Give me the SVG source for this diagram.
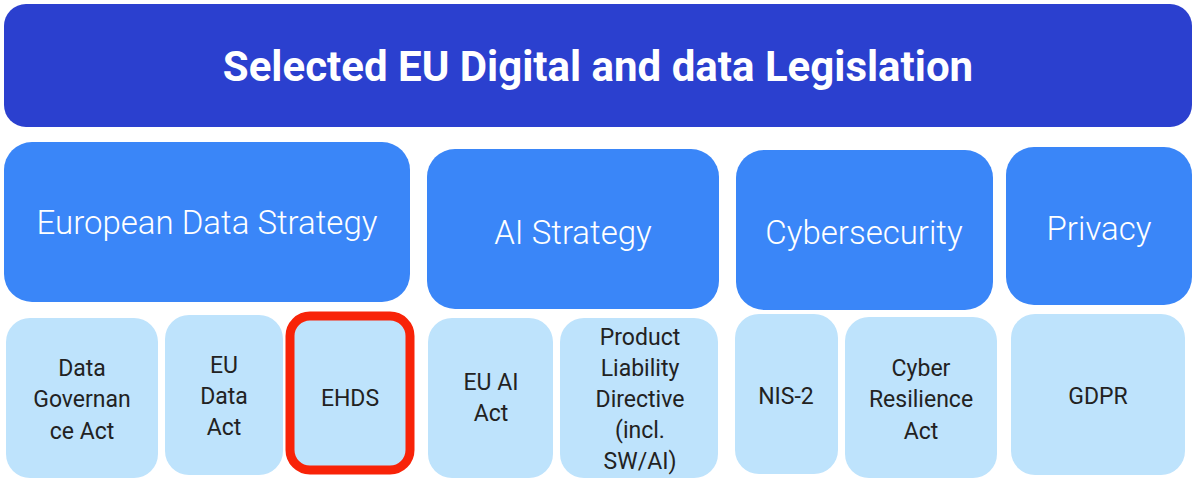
<svg xmlns="http://www.w3.org/2000/svg" width="1200" height="483" viewBox="0 0 1200 483">
<style>
.t{fill:#2B40CF}
.c{fill:#3A86F8}
.l{fill:#BEE3FC}
.tt{font-family:Roboto,"Liberation Sans",sans-serif;font-weight:bold;font-size:42px;fill:#fff;text-anchor:middle}
.ct{font-family:Roboto,"Liberation Sans",sans-serif;font-weight:300;font-size:33px;fill:#fff;text-anchor:middle}
.lt{font-family:Roboto,"Liberation Sans",sans-serif;font-size:23px;fill:#222;text-anchor:middle}
</style>
<rect width="1200" height="483" fill="#fff"/>
<g id="title"><rect class="t" x="4" y="4" width="1188" height="123" rx="22"/><text class="tt" x="598" y="81">Selected EU Digital and data Legislation</text></g>
<g id="eds"><rect class="c" x="4" y="142" width="406" height="160" rx="28"/><text class="ct" x="207" y="234">European Data Strategy</text></g>
<g id="ai"><rect class="c" x="427" y="149" width="292" height="160" rx="28"/><text class="ct" x="573" y="244">AI Strategy</text></g>
<g id="cyber"><rect class="c" x="736" y="150" width="257" height="160" rx="28"/><text class="ct" x="864" y="244">Cybersecurity</text></g>
<g id="privacy"><rect class="c" x="1006" y="147" width="186" height="158" rx="28"/><text class="ct" x="1099" y="240">Privacy</text></g>
<g id="dga"><rect class="l" x="6" y="318" width="152" height="160" rx="24"/><text class="lt" x="82" y="376">Data</text><text class="lt" x="82" y="407">Governan</text><text class="lt" x="82" y="439">ce Act</text></g>
<g id="eda"><rect class="l" x="165" y="315" width="118" height="160" rx="24"/><text class="lt" x="224" y="373">EU</text><text class="lt" x="224" y="404">Data</text><text class="lt" x="224" y="435">Act</text></g>
<g id="ehds"><rect class="l" x="290" y="316" width="120" height="154" rx="20" stroke="#F82308" stroke-width="9"/><text class="lt" x="350" y="406">EHDS</text></g>
<g id="euai"><rect class="l" x="428" y="318" width="125" height="160" rx="24"/><text class="lt" x="491" y="390">EU AI</text><text class="lt" x="491" y="421">Act</text></g>
<g id="pld"><rect class="l" x="560" y="318" width="158" height="160" rx="24"/><text class="lt" x="640" y="345">Product</text><text class="lt" x="640" y="376">Liability</text><text class="lt" x="640" y="407">Directive</text><text class="lt" x="640" y="438">(incl.</text><text class="lt" x="640" y="469">SW/AI)</text></g>
<g id="nis2"><rect class="l" x="735" y="314" width="103" height="160" rx="24"/><text class="lt" x="786" y="404">NIS-2</text></g>
<g id="cra"><rect class="l" x="845" y="317" width="152" height="161" rx="24"/><text class="lt" x="921" y="376">Cyber</text><text class="lt" x="921" y="407">Resilience</text><text class="lt" x="921" y="439">Act</text></g>
<g id="gdpr"><rect class="l" x="1011" y="314" width="174" height="161" rx="24"/><text class="lt" x="1098" y="404">GDPR</text></g>
<g id="connectors"/>
</svg>
